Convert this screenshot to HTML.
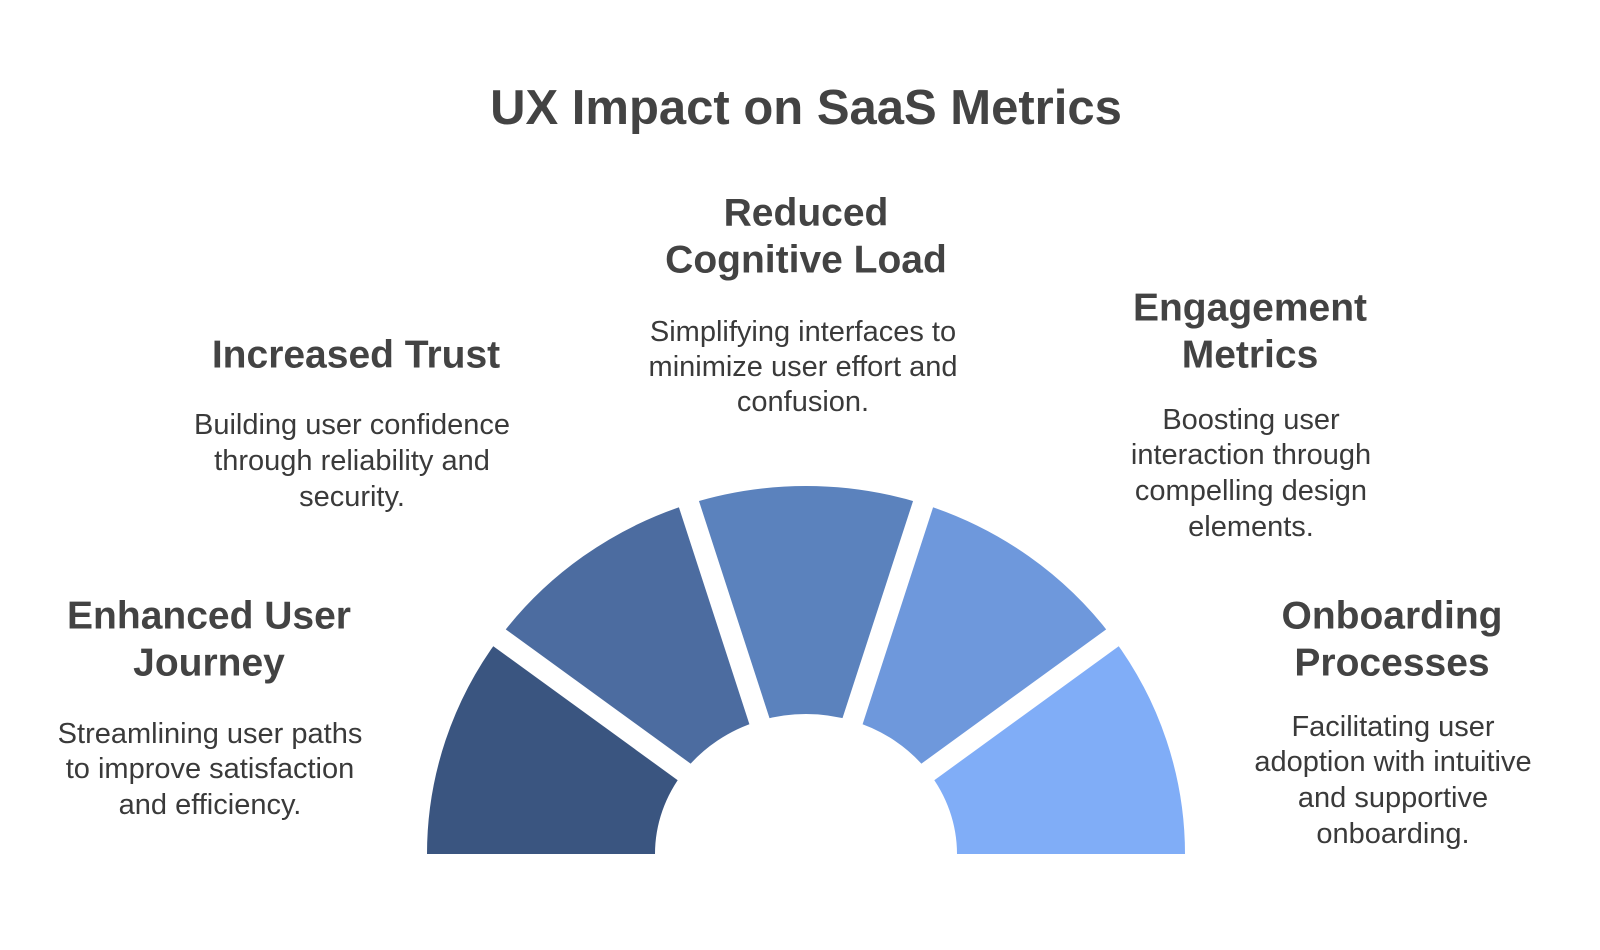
<!DOCTYPE html>
<html><head><meta charset="utf-8"><style>
html,body{margin:0;padding:0;background:#fff;}
svg{display:block;font-family:"Liberation Sans",Arial,sans-serif;}
.h{font-weight:bold;font-size:39px;fill:#434343;}
.d{font-size:29px;fill:#3a3a3a;}
</style></head><body>
<svg id="chart" width="1600" height="950" viewBox="0 0 1600 950" xmlns="http://www.w3.org/2000/svg">
<rect width="1600" height="950" fill="#fff"/>
<text x="806" y="108" text-anchor="middle" dominant-baseline="central" style="font-weight:bold;font-size:49px;fill:#434343">UX Impact on SaaS Metrics</text>
<g id="arcs"></g>
<g id="gaps"></g>

<g>
<text class="h" x="806" y="213" text-anchor="middle" dominant-baseline="central">Reduced</text>
<text class="h" x="806" y="260" text-anchor="middle" dominant-baseline="central">Cognitive Load</text>
<text class="d" x="803" y="332" text-anchor="middle" dominant-baseline="central">Simplifying interfaces to</text>
<text class="d" x="803" y="367" text-anchor="middle" dominant-baseline="central">minimize user effort and</text>
<text class="d" x="803" y="402" text-anchor="middle" dominant-baseline="central">confusion.</text>
</g>
<g>
<text class="h" x="356" y="355" text-anchor="middle" dominant-baseline="central">Increased Trust</text>
<text class="d" x="352" y="425" text-anchor="middle" dominant-baseline="central">Building user confidence</text>
<text class="d" x="352" y="461" text-anchor="middle" dominant-baseline="central">through reliability and</text>
<text class="d" x="352" y="497" text-anchor="middle" dominant-baseline="central">security.</text>
</g>
<g>
<text class="h" x="1250" y="308" text-anchor="middle" dominant-baseline="central">Engagement</text>
<text class="h" x="1250" y="355" text-anchor="middle" dominant-baseline="central">Metrics</text>
<text class="d" x="1251" y="420" text-anchor="middle" dominant-baseline="central">Boosting user</text>
<text class="d" x="1251" y="455" text-anchor="middle" dominant-baseline="central">interaction through</text>
<text class="d" x="1251" y="491" text-anchor="middle" dominant-baseline="central">compelling design</text>
<text class="d" x="1251" y="527" text-anchor="middle" dominant-baseline="central">elements.</text>
</g>
<g>
<text class="h" x="209" y="616" text-anchor="middle" dominant-baseline="central">Enhanced User</text>
<text class="h" x="209" y="663" text-anchor="middle" dominant-baseline="central">Journey</text>
<text class="d" x="210" y="734" text-anchor="middle" dominant-baseline="central">Streamlining user paths</text>
<text class="d" x="210" y="769" text-anchor="middle" dominant-baseline="central">to improve satisfaction</text>
<text class="d" x="210" y="805" text-anchor="middle" dominant-baseline="central">and efficiency.</text>
</g>
<g>
<text class="h" x="1392" y="616" text-anchor="middle" dominant-baseline="central">Onboarding</text>
<text class="h" x="1392" y="663" text-anchor="middle" dominant-baseline="central">Processes</text>
<text class="d" x="1393" y="727" text-anchor="middle" dominant-baseline="central">Facilitating user</text>
<text class="d" x="1393" y="762" text-anchor="middle" dominant-baseline="central">adoption with intuitive</text>
<text class="d" x="1393" y="798" text-anchor="middle" dominant-baseline="central">and supportive</text>
<text class="d" x="1393" y="834" text-anchor="middle" dominant-baseline="central">onboarding.</text>
</g>
</svg>
<script>
const categories = ["Enhanced User Journey","Increased Trust","Reduced Cognitive Load","Engagement Metrics","Onboarding Processes"];
const weights = [1,1,1,1,1];
const colors = ["#3a5580","#4c6ca0","#5b82bd","#6e98dc","#80adf7"];

const NS="http://www.w3.org/2000/svg";
const cx=806, cy=854, rOx=379, rOy=368, rIx=151, rIy=140, gap=21;
const total=weights.reduce((a,b)=>a+b,0);
function pt(rx,ry,a){return [cx+rx*Math.cos(a), cy-ry*Math.sin(a)];}
const arcs=document.getElementById('arcs');
const gaps=document.getElementById('gaps');
let acc=0;
weights.forEach((w,i)=>{
  const a0=Math.PI*(1-acc/total), a1=Math.PI*(1-(acc+w)/total);
  acc+=w;
  const p1=pt(rOx,rOy,a0),p2=pt(rOx,rOy,a1),p3=pt(rIx,rIy,a1),p4=pt(rIx,rIy,a0);
  const p=document.createElementNS(NS,'path');
  p.setAttribute('d',`M${p1[0]},${p1[1]} A${rOx},${rOy} 0 0 1 ${p2[0]},${p2[1]} L${p3[0]},${p3[1]} A${rIx},${rIy} 0 0 0 ${p4[0]},${p4[1]} Z`);
  p.setAttribute('fill',colors[i]);
  
  
  arcs.appendChild(p);
  if(i<weights.length-1){
    const q1=pt(rIx-12,rIy-12,a1),q2=pt(rOx+12,rOy+12,a1);
    const l=document.createElementNS(NS,'line');
    l.setAttribute('x1',q1[0]);l.setAttribute('y1',q1[1]);
    l.setAttribute('x2',q2[0]);l.setAttribute('y2',q2[1]);
    l.setAttribute('stroke','#fff');l.setAttribute('stroke-width',gap);
    
    
    gaps.appendChild(l);
  }
});
</script>
</body></html>
